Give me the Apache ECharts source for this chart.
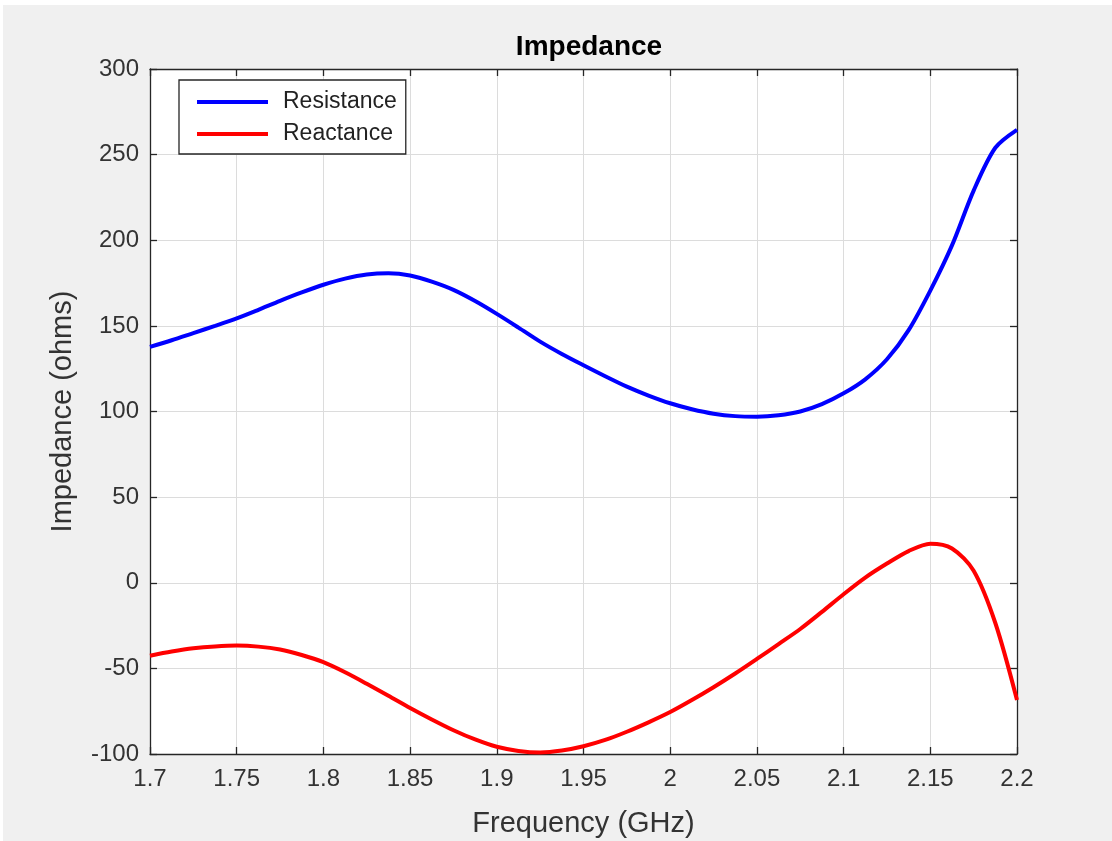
<!DOCTYPE html>
<html>
<head>
<meta charset="utf-8">
<script src="https://cdn.jsdelivr.net/npm/echarts@6/dist/echarts.min.js"></script>
<style>
html,body{margin:0;padding:0;background:#fff;}
#chart{width:1112px;height:841px;}
</style>
</head>
<body>
<div id="chart"></div>
<script>
const freq = [1.7,1.7125,1.725,1.7375,1.75,1.7625,1.775,1.7875,1.8,1.8125,1.825,1.8375,1.85,1.8625,1.875,1.8875,1.9,1.9125,1.925,1.9375,1.95,1.9625,1.975,1.9875,2.0,2.0125,2.025,2.0375,2.05,2.0625,2.075,2.0875,2.1,2.1125,2.125,2.1375,2.15,2.1625,2.175,2.1875,2.2];
const resistance = [137.7,141.6,145.8,150,154.4,159.4,164.6,169.5,174,177.6,180,180.7,179.4,175.8,171,164.5,157,149,140.8,133.6,127,120.6,114.5,109.3,104.8,101.3,98.7,97.3,97,97.8,100,104.3,110.6,118.8,130.5,147.5,170.6,197,229,254,264.5];
const reactance = [-42.6,-40.2,-38.3,-37.2,-36.7,-37.3,-39,-42.2,-46.4,-52.3,-59,-66,-73.1,-79.8,-86.1,-91.5,-95.8,-98.2,-99.1,-98,-95.5,-91.8,-87,-81.5,-75.5,-68.5,-61,-53,-44.5,-35.8,-27,-17,-6.7,3,11.2,18.5,22.8,20,7,-23.5,-68.5];
const seriesNames = ['Resistance','Reactance'];
const xTicks = {min:1.7,max:2.2,interval:0.05};
const yTicks = {min:-100,max:300,interval:50};

const chart = echarts.init(document.getElementById('chart'));
const axisCol = '#262626';
const fontFam = '"Liberation Sans", Arial, Helvetica, sans-serif';
const lblStyle = {color:'#333', fontSize:24, fontFamily:fontFam};

function pairs(vals){ return freq.map((f,i)=>[f, vals[i]]); }

chart.setOption({
  backgroundColor:'#f0f0f0',
  animation:false,
  graphic:[
    {type:'rect', left:0, top:0, shape:{width:1112,height:5}, style:{fill:'#fff'}, silent:true},
    {type:'rect', left:0, top:0, shape:{width:3,height:841}, style:{fill:'#fff'}, silent:true}
  ],
  title:{
    text:'Impedance', left:584, top:28, textAlign:'center',
    textStyle:{fontSize:28, fontWeight:'bold', color:'#000', fontFamily:fontFam}
  },
  grid:{
    left:150, right:95, top:69, bottom:87,
    show:true, backgroundColor:'#fff', borderWidth:0,
    containLabel:false, outerBoundsMode:'none'
  },
  legend:{
    orient:'vertical', left:179, top:80,
    backgroundColor:'#fff', borderColor:axisCol, borderWidth:1.3,
    padding:[10,9,8,18], itemGap:8,
    itemWidth:71, itemHeight:4, icon:'rect',
    textStyle:{fontSize:23, color:'#222', fontFamily:fontFam, lineHeight:24, padding:[0,0,0,10]},
    data:seriesNames
  },
  xAxis:[{
    type:'value', min:xTicks.min, max:xTicks.max, interval:xTicks.interval,
    name:'Frequency (GHz)', nameLocation:'middle', nameGap:55,
    nameTextStyle:{fontSize:29, color:'#333', fontFamily:fontFam},
    axisLine:{show:true, onZero:false, lineStyle:{color:axisCol, width:1.3}},
    axisTick:{show:true, inside:true, length:7, lineStyle:{color:axisCol, width:1.3}},
    axisLabel:Object.assign({margin:13, formatter:v=>String(parseFloat(v.toFixed(2)))}, lblStyle),
    splitLine:{show:true, lineStyle:{color:'#dcdcdc', width:1}}
  },{
    type:'value', position:'top', min:xTicks.min, max:xTicks.max, interval:xTicks.interval,
    axisLine:{show:true, onZero:false, lineStyle:{color:axisCol, width:1.3}},
    axisTick:{show:true, inside:true, length:7, lineStyle:{color:axisCol, width:1.3}},
    axisLabel:{show:false}, splitLine:{show:false}
  }],
  yAxis:[{
    type:'value', min:yTicks.min, max:yTicks.max, interval:yTicks.interval,
    name:'Impedance (ohms)', nameLocation:'middle', nameGap:73, nameRotate:90,
    nameTextStyle:{fontSize:29, color:'#333', fontFamily:fontFam},
    axisLine:{show:true, onZero:false, lineStyle:{color:axisCol, width:1.3}},
    axisTick:{show:true, inside:true, length:7, lineStyle:{color:axisCol, width:1.3}},
    axisLabel:Object.assign({margin:11}, lblStyle),
    splitLine:{show:true, lineStyle:{color:'#dcdcdc', width:1}}
  },{
    type:'value', position:'right', min:yTicks.min, max:yTicks.max, interval:yTicks.interval,
    axisLine:{show:true, onZero:false, lineStyle:{color:axisCol, width:1.3}},
    axisTick:{show:true, inside:true, length:7, lineStyle:{color:axisCol, width:1.3}},
    axisLabel:{show:false}, splitLine:{show:false}
  }],
  series:[{
    name:seriesNames[0], type:'line', data:pairs(resistance), smooth:0.3,
    showSymbol:false, symbol:'none', color:'#0000ff',
    lineStyle:{color:'#0000ff', width:4}, z:3
  },{
    name:seriesNames[1], type:'line', data:pairs(reactance), smooth:0.3,
    showSymbol:false, symbol:'none', color:'#ff0000',
    lineStyle:{color:'#ff0000', width:4}, z:3
  }]
});
</script>
</body>
</html>
